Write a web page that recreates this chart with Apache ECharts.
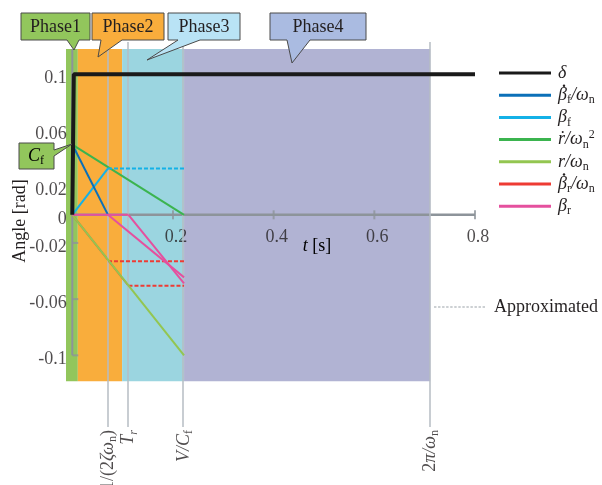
<!DOCTYPE html>
<html>
<head>
<meta charset="utf-8">
<script src="https://cdn.jsdelivr.net/npm/echarts@6/dist/echarts.min.js"></script>
<style>html,body{margin:0;padding:0;background:#fff}#c{width:602px;height:485px}</style>
</head>
<body>
<div id="c"></div>
<script>
// ---------- data ----------
const xTicks = [0.2, 0.4, 0.6, 0.8];
const yTicks = [-0.1, -0.06, -0.02, 0, 0.02, 0.06, 0.1];
const yInnerTicks = [-0.02, -0.06, -0.1];
const phaseNames = ['Phase1', 'Phase2', 'Phase3', 'Phase4'];
const phaseBounds = [-0.0125, 0.011, 0.099, 0.222, 0.711];
const markerTimes = [0.0709, 0.1116, 0.222, 0.711];
const markerLabels = ['{u|1/(2}{i|ζω}{s|n}{u|)}', '{i|T}{si|r}', '{i|V/C}{s|f}', '{u|2}{i|π/ω}{s|n}'];
const deltaLine = [[0, 0], [0.003, 0.1], [0.8, 0.1]];
const bfDotLine = [[0, 0.05], [0.0709, 0]];
const bfLine = [[0, 0], [0.0709, 0.033]];
const bfApprox = [[0.0709, 0.033], [0.222, 0.033]];
const rDotLine = [[0, 0.05], [0.222, 0]];
const rLine = [[0, 0], [0.222, -0.1]];
const brDotLine = [[0, 0], [0.1116, -0.0505]];
const brDotApproxA = [[0.0709, -0.033], [0.222, -0.033]];
const brDotApproxB = [[0.1116, -0.0505], [0.222, -0.0505]];
const brFlat = [[0, 0], [0.1116, 0]];
const brDiagA = [[0.0709, 0], [0.222, -0.0445]];
const brDiagB = [[0.1116, 0], [0.222, -0.0488]];
const xAxisLineData = [[0, 0], [0.8, 0]];
const yAxisLineData = [[0, 0.118], [0, -0.1]];
const bgTop = 0.118, bgBottom = -0.1185;

// ---------- styles ----------
const phaseColors = ['#92c65c', '#f9ad3c', '#9bd5e0', '#b1b3d3'];
const calloutColors = ['#92c65c', '#f9ad3c', '#b9e3f5', '#aabbe1'];
const serif = '"Liberation Serif", "Times New Roman", serif';
const txt = '#231f20';
const axisGray = '#8d949a';
const guideGray = '#b6bdc3';
const C = {
  delta: '#1a1a1a', bfd: '#0b70b8', bf: '#14b1e7', rd: '#3bb44f',
  r: '#93c651', brd: '#ee3b33', br: '#e5509e'
};
const legendNames = ['delta', 'bfd', 'bf', 'rd', 'r', 'brd', 'br'];
const legendRich = {
  delta: '{i|δ}',
  bfd: '{i|β}{s|f}{i|/ω}{s|n}',
  bf: '{i|β}{s|f}',
  rd: '{i|ṙ/ω}{s|n}{p|2}',
  r: '{i|r/ω}{s|n}',
  brd: '{i|β}{s|r}{i|/ω}{s|n}',
  br: '{i|β}{s|r}'
};
const legendDotted = ['bfd', 'brd'];
const richBase = {
  i: { fontFamily: serif, fontStyle: 'italic', fontSize: 18, lineHeight: 22, color: txt },
  u: { fontFamily: serif, fontSize: 18, lineHeight: 22, color: txt },
  s: { fontFamily: serif, fontSize: 12, lineHeight: 11, verticalAlign: 'bottom', color: txt },
  si: { fontFamily: serif, fontStyle: 'italic', fontSize: 12, lineHeight: 11, verticalAlign: 'bottom', color: txt },
  p: { fontFamily: serif, fontSize: 12, lineHeight: 11, verticalAlign: 'top', color: txt }
};

function lineSeries(name, data, color, width, dashed, z) {
  return {
    type: 'line', name: name, data: data, symbol: 'none', showSymbol: false,
    lineStyle: { color: color, width: width, type: dashed ? [4, 2] : 'solid', cap: 'butt' },
    itemStyle: { color: color }, z: z || 5, silent: true, animation: false
  };
}
// dashed legend icon path
let dashPath = 'path://';
for (let k = 0; k < 13; k++) dashPath += 'M' + (k * 4) + ',0h2.4v1h-2.4z';

const chart = echarts.init(document.getElementById('c'), null, { renderer: 'canvas' });

const bgAreas = phaseNames.map((n, k) => [
  { xAxis: phaseBounds[k], yAxis: bgTop, itemStyle: { color: phaseColors[k] } },
  { xAxis: phaseBounds[k + 1], yAxis: bgBottom }
]);

// legend layout (pixels)
const LEG_LEFT = 499, LEG_TOP = 62, LEG_ICON_W = 52, LEG_ROW = 22.2;

// callout shapes (annotation layout, pixels)
function bottomCallout(x1, y1, x2, y2, b1, b2, tx, ty) {
  return [[x1, y1], [x2, y1], [x2, y2], [b2, y2], [tx, ty], [b1, y2], [x1, y2]];
}
const callouts = [
  { pts: bottomCallout(21, 13, 90, 40, 67, 79, 74, 50), cx: 55.5 },
  { pts: bottomCallout(92, 13, 164, 40, 101, 122, 98, 57), cx: 128 },
  { pts: bottomCallout(168, 13, 240, 40, 178, 200, 147, 60), cx: 204 },
  { pts: bottomCallout(270, 13, 366, 40, 287, 310, 292, 63), cx: 318 }
];
const graphics = [];
callouts.forEach((c, k) => {
  graphics.push({ type: 'polygon', shape: { points: c.pts }, style: { fill: calloutColors[k], stroke: '#4a4a4a', lineWidth: 1 }, z: 100 });
  graphics.push({ type: 'text', x: c.cx, y: 27, style: { text: phaseNames[k], font: '18px ' + serif, fill: txt, align: 'center', verticalAlign: 'middle' }, z: 101 });
});
graphics.push({ type: 'polygon', shape: { points: [[19, 143], [54, 143], [54, 150], [72, 144], [54, 156], [54, 169], [19, 169]] }, style: { fill: '#92c65c', stroke: '#4a4a4a', lineWidth: 1 }, z: 100 });
graphics.push({ type: 'text', x: 36, y: 156, style: { text: '{i|C}{s|f}', rich: richBase, align: 'center', verticalAlign: 'middle' }, z: 101 });
graphics.push({ type: 'text', x: 20, y: 221, rotation: Math.PI / 2, style: { text: 'Angle [rad]', font: '18px ' + serif, fill: txt, align: 'center', verticalAlign: 'middle' }, z: 101 });
graphics.push({ type: 'text', x: 317, y: 246, style: { text: '{i|t}{u| [s]}', rich: richBase, align: 'center', verticalAlign: 'middle' }, z: 101 });
// time-derivative dots above beta in legend
legendDotted.forEach(n => {
  const k = legendNames.indexOf(n);
  const cy = LEG_TOP + 11 + k * LEG_ROW;
  graphics.push({ type: 'circle', shape: { cx: LEG_LEFT + LEG_ICON_W + 13, cy: cy - 9.5, r: 1.2 }, style: { fill: txt }, z: 101 });
});

const tickLabelStyle = { fontFamily: serif, fontSize: 18, color: txt };

const option = {
  animation: false,
  backgroundColor: '#fff',
  grid: { left: 66, right: 127, top: 42, bottom: 58, containLabel: false },
  xAxis: {
    type: 'value', min: -0.0125, max: 0.8,
    axisLine: { show: false }, axisTick: { show: false },
    splitLine: { show: false }, axisLabel: { show: false }
  },
  yAxis: {
    type: 'value', min: -0.151, max: 0.123,
    axisLine: { show: false }, axisTick: { show: false }, splitLine: { show: false },
    axisLabel: { show: false }
  },
  legend: [
    {
      data: legendNames, orient: 'vertical', left: LEG_LEFT, top: LEG_TOP, padding: 0,
      icon: 'rect', itemWidth: LEG_ICON_W, itemHeight: 3,
      itemGap: 0.2, selectedMode: false,
      formatter: n => legendRich[n],
      textStyle: { rich: richBase, fontFamily: serif, fontSize: 18, lineHeight: 22, color: txt, padding: [0, 0, 0, 2] }
    },
    {
      data: [{ name: 'Approximated', icon: dashPath }], orient: 'vertical', left: 434, top: 296, padding: 0,
      itemWidth: 51, itemHeight: 1.2, symbolKeepAspect: false,
      itemGap: 0, selectedMode: false,
      textStyle: { fontFamily: serif, fontSize: 18, color: txt, lineHeight: 22, padding: [0, 0, 0, 4] }
    }
  ],
  graphic: graphics,
  series: [
    {
      type: 'line', name: 'bg', data: [], z: 1, silent: true,
      markArea: { silent: true, data: bgAreas },
      markLine: {
        silent: true, symbol: 'none', label: { show: false },
        lineStyle: { color: guideGray, width: 1.5, type: 'solid' },
        data: markerTimes.map(t => ({ xAxis: t }))
      }
    },
    lineSeries(null, yAxisLineData, axisGray, 2, false, 2),
    lineSeries(null, xAxisLineData, axisGray, 2.5, false, 2),
    {
      type: 'scatter', data: xTicks.map(t => [t, 0]), symbol: 'rect', symbolSize: [2, 9],
      itemStyle: { color: axisGray }, z: 2, silent: true,
      label: { show: true, position: 'bottom', distance: 9, offset: [3, 0], formatter: p => String(p.value[0]), ...tickLabelStyle }
    },
    {
      type: 'scatter', data: yInnerTicks.map(v => [0, v]), symbol: 'rect', symbolSize: [6, 2], symbolOffset: [3, 0],
      itemStyle: { color: axisGray }, z: 2, silent: true
    },
    {
      type: 'scatter', data: yTicks.map(v => [0, v]), symbolSize: 1, itemStyle: { color: 'transparent' },
      z: 12, silent: true, clip: false,
      label: { show: true, position: 'left', distance: 5, offset: [0, 4], formatter: p => String(p.value[1]), ...tickLabelStyle }
    },
    lineSeries('delta', deltaLine, C.delta, 4, false, 9),
    lineSeries('brd', brDotLine, C.brd, 1.8, false, 4),
    lineSeries('brd', brDotApproxA, C.brd, 2, true, 5),
    lineSeries('brd', brDotApproxB, C.brd, 2, true, 5),
    lineSeries('r', rLine, C.r, 2, false, 5),
    lineSeries('rd', rDotLine, C.rd, 2, false, 5),
    lineSeries('bf', bfLine, C.bf, 2, false, 6),
    lineSeries('bf', bfApprox, C.bf, 2, true, 6),
    lineSeries('bfd', bfDotLine, C.bfd, 2, false, 6),
    lineSeries('br', brFlat, C.br, 2, false, 6),
    lineSeries('br', brDiagA, C.br, 2, false, 6),
    lineSeries('br', brDiagB, C.br, 2, false, 6),
    {
      type: 'line', name: 'Approximated', data: [], symbol: 'none',
      lineStyle: { color: '#9aa1a7', width: 1, type: [2, 1] }, itemStyle: { color: '#9aa1a7' }
    },
    {
      type: 'scatter', data: markerTimes.map(t => [t, -0.151]), symbolSize: 1,
      itemStyle: { color: 'transparent' }, z: 10, silent: true, clip: false,
      label: {
        show: true, position: 'inside', rotate: 90, align: 'right', verticalAlign: 'middle',
        formatter: p => markerLabels[p.dataIndex], rich: richBase, padding: [0, 3, 0, 0]
      }
    }
  ]
};
chart.setOption(option);
</script>
</body>
</html>
